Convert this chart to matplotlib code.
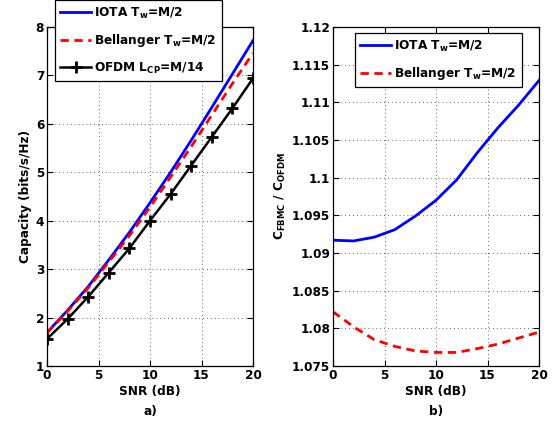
import matplotlib
matplotlib.use("Agg")
import matplotlib.pyplot as plt

plt.rcParams["font.family"] = ["DejaVu Sans"]
plt.rcParams["font.weight"] = "bold"
plt.rcParams["mathtext.fontset"] = "dejavusans"
plt.rcParams["mathtext.default"] = "bf"

# SNR points (dB)
snr = [0, 2, 4, 6, 8, 10, 12, 14, 16, 18, 20]

# a) capacity in bits/s/Hz
cap_iota = [1.69, 2.15, 2.64, 3.19, 3.76, 4.37, 5.00, 5.66, 6.34, 7.03, 7.72]
cap_bell = [1.68, 2.13, 2.61, 3.15, 3.69, 4.28, 4.90, 5.53, 6.18, 6.83, 7.46]
cap_ofdm = [1.56, 1.97, 2.43, 2.93, 3.43, 4.00, 4.55, 5.14, 5.73, 6.32, 6.94]

# b) ratio C_FBMC / C_OFDM
ratio_iota = [1.0917, 1.0916, 1.0921, 1.0931, 1.0949, 1.0970, 1.0997, 1.1033, 1.1066, 1.1096, 1.1129]
ratio_bell = [1.0822, 1.0802, 1.0785, 1.0776, 1.0770, 1.0768, 1.0768, 1.0773, 1.0779, 1.0787, 1.0795]

left_yticks = [1, 2, 3, 4, 5, 6, 7, 8]
right_yticks = [1.075, 1.08, 1.085, 1.09, 1.095, 1.1, 1.105, 1.11, 1.115, 1.12]
right_ylabels = ["1.075", "1.08", "1.085", "1.09", "1.095", "1.1", "1.105", "1.11", "1.115", "1.12"]
xticks = [0, 5, 10, 15, 20]

fs = 8.7

fig = plt.figure(figsize=(5.57, 4.23), dpi=100)
ax1 = fig.add_axes([47 / 557, 57 / 423, 206 / 557, 339 / 423])
ax2 = fig.add_axes([333 / 557, 57 / 423, 206 / 557, 339 / 423])


def style(ax):
    ax.grid(True, linestyle=(0, (1, 3)), color="0.4", linewidth=0.7)
    ax.tick_params(direction="in", top=True, right=True, labelsize=fs, length=4, width=0.8, pad=2)
    for s in ax.spines.values():
        s.set_linewidth(0.9)
    ax.set_xlim(0, 20)
    ax.set_xticks(xticks)
    ax.set_xlabel("SNR (dB)", fontsize=fs, fontweight="bold", labelpad=2)


def add_legend(ax, x, y):
    leg = ax.legend(loc="upper left", bbox_to_anchor=(x / 557, 1 - y / 423),
                    bbox_transform=fig.transFigure, fontsize=fs, fancybox=False,
                    edgecolor="black", framealpha=1, handlelength=2.5, borderpad=0.45,
                    labelspacing=0.95, handletextpad=0.3, borderaxespad=0)
    leg.get_frame().set_linewidth(0.9)


# Left panel
ax1.plot(snr, cap_iota, color="blue", lw=2, label="IOTA T$_w$=M/2")
ax1.plot(snr, cap_bell, color="red", lw=2, ls=(0, (3, 2)), label="Bellanger T$_w$=M/2")
ax1.plot(snr, cap_ofdm, color="black", lw=1.8, marker="+", ms=8, mew=2, label="OFDM L$_{CP}$=M/14")
style(ax1)
ax1.set_ylim(1, 8)
ax1.set_yticks(left_yticks)
ax1.set_ylabel("Capacity (bits/s/Hz)", fontsize=fs, fontweight="bold", labelpad=3)
add_legend(ax1, 55, 0)

# Right panel
ax2.plot(snr, ratio_iota, color="blue", lw=2, label="IOTA T$_w$=M/2")
ax2.plot(snr, ratio_bell, color="red", lw=2, ls=(0, (3, 2)), label="Bellanger T$_w$=M/2")
style(ax2)
ax2.set_ylim(1.075, 1.12)
ax2.set_yticks(right_yticks)
ax2.set_yticklabels(right_ylabels)
ax2.set_ylabel("C$_{FBMC}$ / C$_{OFDM}$", fontsize=fs, fontweight="bold", labelpad=3)
add_legend(ax2, 355, 33)

fig.text(150 / 557, 1 - 411 / 423, "a)", ha="center", va="center", fontsize=fs, fontweight="bold")
fig.text(436 / 557, 1 - 411 / 423, "b)", ha="center", va="center", fontsize=fs, fontweight="bold")

fig.savefig("out.png", dpi=100)
